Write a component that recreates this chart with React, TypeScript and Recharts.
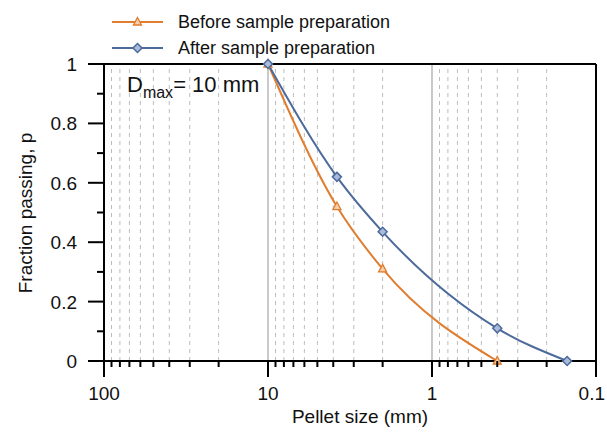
import React from 'react';
import { LineChart, Line, XAxis, YAxis, ReferenceLine } from 'recharts';

// sieve sizes (mm) and fraction passing
const beforeSize = [10, 3.8, 2, 0.4];
const beforePassing = [1, 0.52, 0.31, 0];
const afterSize = [10, 3.8, 2, 0.4, 0.15];
const afterPassing = [1, 0.62, 0.435, 0.11, 0];

const majorTicks = [100, 10, 1, 0.1];
const majorLabels = ['100', '10', '1', '0.1'];
const minorTicks = [90, 80, 70, 60, 50, 40, 30, 20, 9, 8, 7, 6, 5, 4, 3, 2, 0.9, 0.8, 0.7, 0.6, 0.5, 0.4, 0.3, 0.2];
const yTicks = [0, 0.1, 0.2, 0.3, 0.4, 0.5, 0.6, 0.7, 0.8, 0.9, 1];
const yLabels = ['0', '', '0.2', '', '0.4', '', '0.6', '', '0.8', '', '1'];

const seriesNames = ['Before sample preparation', 'After sample preparation'];

const ORANGE = '#E07D2E';
const BLUE = '#4C6A9C';
const FONT = '"Liberation Sans", Arial, Helvetica, sans-serif';

const beforeData = beforeSize.map((size, i) => ({ size, p: beforePassing[i] }));
const afterData = afterSize.map((size, i) => ({ size, p: afterPassing[i] }));

const Triangle = ({ cx, cy }: any) => (
  <path
    d={`M${cx},${cy - 4.5} L${cx + 4},${cy + 3} L${cx - 4},${cy + 3} Z`}
    fill="#F6CFA8"
    stroke={ORANGE}
    strokeWidth={1.3}
  />
);

const Diamond = ({ cx, cy }: any) => (
  <path
    d={`M${cx},${cy - 4.5} L${cx + 4.5},${cy} L${cx},${cy + 4.5} L${cx - 4.5},${cy} Z`}
    fill="#A9BBD8"
    stroke={BLUE}
    strokeWidth={1.5}
  />
);

const XTick = ({ x, y, payload }: any) => {
  const idx = majorTicks.indexOf(payload.value);
  const major = idx >= 0;
  // last label sits against the right edge, as in the original
  const last = idx === majorTicks.length - 1;
  return (
    <g>
      <line x1={x} x2={x} y1={y} y2={y + (major ? 16 : 6)} stroke="#000" strokeWidth={2} />
      {major && (
        <text
          x={last ? 605 : x}
          y={y + 39}
          textAnchor={last ? 'end' : 'middle'}
          fontSize={19}
          fontFamily={FONT}
          fill="#111"
        >
          {majorLabels[idx]}
        </text>
      )}
    </g>
  );
};

const YTick = ({ x, y, index }: any) => {
  const label = yLabels[index];
  const major = label !== '';
  return (
    <g>
      <line x1={x} x2={x - (major ? 16 : 7)} y1={y} y2={y} stroke="#000" strokeWidth={2} />
      {major && (
        <text x={x - 27} y={y + 7} textAnchor="end" fontSize={19} fontFamily={FONT} fill="#111">
          {label}
        </text>
      )}
    </g>
  );
};

export default function App() {
  return (
    <div style={{ position: 'absolute', left: 0, top: 0, width: 607, height: 432, background: '#fff' }}>
      <LineChart width={607} height={432} margin={{ top: 64, right: 11, bottom: 0, left: 0 }}>
        <XAxis
          dataKey="size"
          type="number"
          scale="log"
          domain={[0.1, 100]}
          reversed
          allowDataOverflow
          ticks={[...majorTicks, ...minorTicks]}
          interval={0}
          tickSize={0}
          tickMargin={0}
          tickLine={false}
          tick={<XTick />}
          axisLine={{ stroke: '#000', strokeWidth: 2 }}
          height={71}
        />
        <YAxis
          type="number"
          domain={[0, 1]}
          ticks={yTicks}
          interval={0}
          tickSize={0}
          tickMargin={0}
          tickLine={false}
          tick={<YTick />}
          axisLine={{ stroke: '#000', strokeWidth: 2 }}
          width={104}
        />
        {minorTicks.map((v) => (
          <ReferenceLine key={v} x={v} stroke="#bdbdbd" strokeDasharray="4 4" strokeWidth={1} />
        ))}
        <ReferenceLine x={10} stroke="#a6a6a6" strokeWidth={1.2} />
        <ReferenceLine x={1} stroke="#a6a6a6" strokeWidth={1.2} />
        <ReferenceLine y={1} stroke="#000" strokeWidth={2} />
        <ReferenceLine x={0.1} stroke="#000" strokeWidth={2} />
        <Line
          data={beforeData}
          dataKey="p"
          type="monotone"
          stroke={ORANGE}
          strokeWidth={2}
          dot={<Triangle />}
          activeDot={false}
          isAnimationActive={false}
        />
        <Line
          data={afterData}
          dataKey="p"
          type="monotone"
          stroke={BLUE}
          strokeWidth={2}
          dot={<Diamond />}
          activeDot={false}
          isAnimationActive={false}
        />
      </LineChart>
      <svg
        width={607}
        height={432}
        style={{ position: 'absolute', left: 0, top: 0, pointerEvents: 'none' }}
        fontFamily={FONT}
      >
        <line x1={112} x2={163} y1={22} y2={22} stroke={ORANGE} strokeWidth={2} />
        <Triangle cx={137.5} cy={22} />
        <text x={178} y={28} fontSize={18} fill="#111">{seriesNames[0]}</text>
        <line x1={112} x2={163} y1={48} y2={48} stroke={BLUE} strokeWidth={2} />
        <Diamond cx={137.5} cy={48} />
        <text x={178} y={54} fontSize={18} fill="#111">{seriesNames[1]}</text>

        <text x={127} y={92} fontSize={22} fill="#111">
          D<tspan fontSize={16} dy={6}>max</tspan>
          <tspan fontSize={22} dy={-6}>= 10 mm</tspan>
        </text>

        <text x={360} y={423} textAnchor="middle" fontSize={19} fill="#111">Pellet size (mm)</text>
        <text
          transform="translate(32,213) rotate(-90)"
          textAnchor="middle"
          fontSize={19}
          fill="#111"
        >
          Fraction passing, p
        </text>
      </svg>
    </div>
  );
}
